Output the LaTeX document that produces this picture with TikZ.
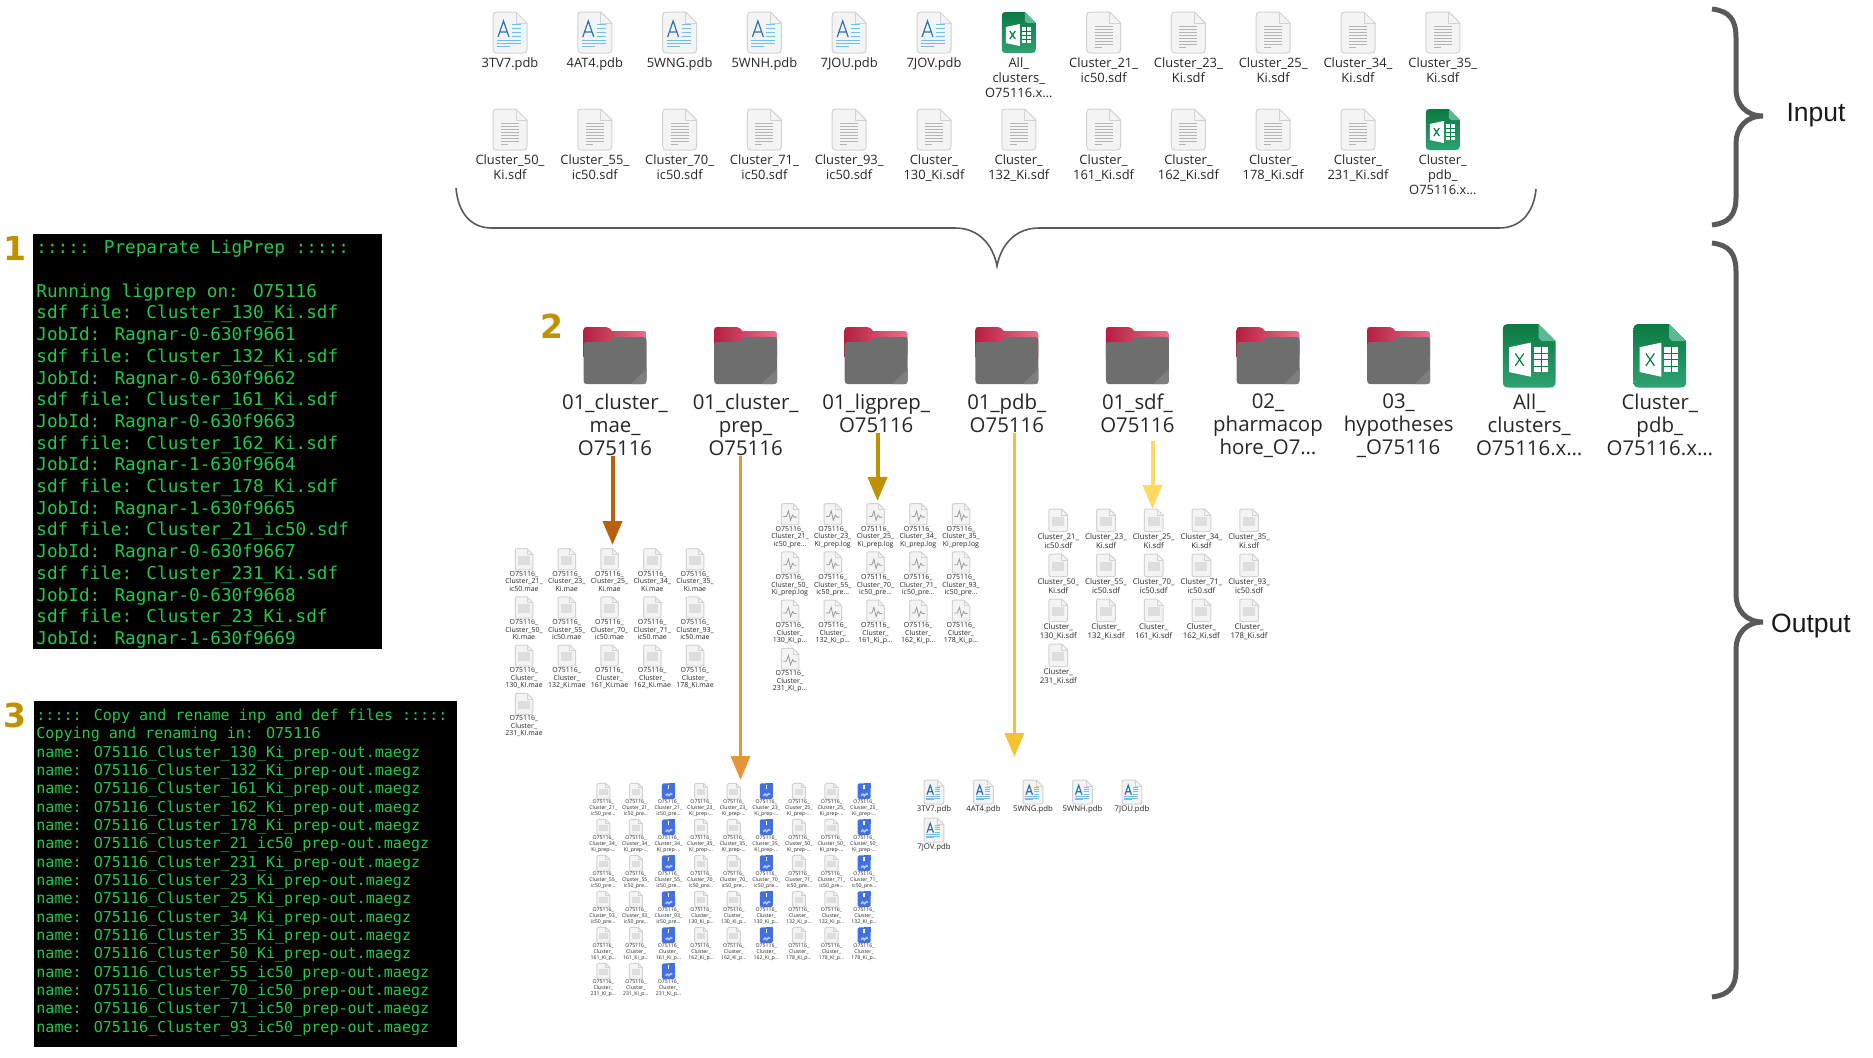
\documentclass[tikz,border=0pt]{standalone}
\usepackage{fontspec}
\usetikzlibrary{arrows.meta}
\setmainfont{Open Sans}
\newfontfamily\termfont{DejaVu Sans Mono}
\newfontfamily\digitfont{DejaVu Sans}
\newfontfamily\sidefont{Liberation Sans}
\catcode`\_=12

\definecolor{termgreen}{HTML}{22C84A}
\definecolor{stepgold}{HTML}{BF9000}
\definecolor{bracegray}{HTML}{595959}
\definecolor{pagefill}{HTML}{F4F4F4}
\definecolor{pageedge}{HTML}{D2D2D2}
\definecolor{pagelines}{HTML}{B4B4B4}
\definecolor{pdbdark}{HTML}{2F72AE}
\definecolor{pdblight}{HTML}{74BCEB}
\definecolor{xlsxdark}{HTML}{0B7A42}
\definecolor{xlsxlight}{HTML}{2FA272}
\definecolor{xlsxfold}{HTML}{5CB993}
\definecolor{reddark}{HTML}{B51F40}
\definecolor{redlight}{HTML}{EA6F8A}
\definecolor{foldergray}{HTML}{6E6E6E}
\definecolor{foldersheen}{HTML}{7E7E7E}
\definecolor{blueicon}{HTML}{4470DF}
\definecolor{arrowmae}{HTML}{B8610D}
\definecolor{arrowprep}{HTML}{E8943A}
\definecolor{arrowlig}{HTML}{BF9000}
\definecolor{arrowpdb}{HTML}{F6C232}
\definecolor{arrowsdf}{HTML}{FFD966}

% a page, 34 wide and 41 high, x centred, y from its top
\newcommand{\pagepath}{(-13,0) -- (6,0) -- (17,11) -- (17,37)
  .. controls (17,40) and (16,41) .. (13,41) -- (-13,41)
  .. controls (-16,41) and (-17,40) .. (-17,37) -- (-17,4)
  .. controls (-17,1) and (-16,0) .. (-13,0) -- cycle}
\newcommand{\iconpage}{%
  \filldraw[fill=pagefill,draw=pageedge,line width=.5pt] \pagepath;
  \draw[pageedge,line width=.4pt] (6,0) -- (6,11) -- (17,11);}
\newcommand{\icontxt}{\iconpage
  \foreach \ly in {14,17,20,23,26,29,32}
    \draw[pagelines,line width=.4pt] (-9,\ly) -- (9,\ly);
  \draw[pagelines,line width=.4pt] (-9,35) -- (-2,35);}
\newcommand{\iconblock}{\iconpage
  \fill[black!13] (-11,14) rectangle (11,31);}
\newcommand{\iconlog}{\iconpage
  \draw[black!40,line width=.4pt] (-13,25) -- (-7,25) -- (-3,14) -- (1,32) -- (5,22) -- (8,26) -- (13,26);}
\newcommand{\iconpdb}{\iconpage
  \draw[pdbdark,line width=.6pt] (-12,25) -- (-6.5,9) -- (-1,25) (-10,20) -- (-3,20);
  \foreach \ly in {12,16,20,24}
    \draw[pdblight,line width=.5pt] (2,\ly) -- (11,\ly);
  \foreach \ly in {28,31}
    \draw[pdblight,line width=.5pt] (-13,\ly) -- (11,\ly);
  \draw[pdblight,line width=.5pt] (-13,34) -- (0,34);}
\newcommand{\iconblue}{%
  \fill[blueicon] \pagepath;
  \fill[blueicon] (0,0) rectangle (17,12);
  \draw[white,line width=.7pt] (0,4) -- (0,16);
  \draw[white!60!blueicon,line width=.8pt] (-8,32) -- (-3,28) -- (1,32) -- (6,27) -- (10,29);}
\newcommand{\iconxlsx}{%
  \shade[top color=xlsxdark,bottom color=xlsxlight] \pagepath;
  \fill[xlsxfold] (6,0) -- (17,11) -- (8,11) -- (6,9) -- cycle;
  \fill[white] (-13,15) -- (1,12) -- (1,34) -- (-13,31) -- cycle;
  \fill[white] (3,15) rectangle (12,31);
  \draw[xlsxdark,line width=.6pt] (-9,19) -- (-3.5,27) (-3.5,19) -- (-9,27);
  \foreach \ly in {19,23,27}
    \draw[xlsxdark,line width=.3pt] (3,\ly) -- (12,\ly);
  \draw[xlsxdark,line width=.3pt] (7.5,15) -- (7.5,31);}
\newcommand{\iconbigxlsx}{%
  \begin{scope}[yshift=1.5pt,scale=1.55]\iconxlsx\end{scope}}
\newcommand{\iconfolder}{%
  \shade[left color=reddark,right color=redlight] (-28.5,0) -- (-9,0)
    .. controls (-6,0) and (-5,2) .. (-3,4) -- (28.5,4)
    .. controls (30.5,4) and (31.5,5) .. (31.5,8) -- (31.5,30)
    -- (-31.5,30) -- (-31.5,3) .. controls (-31.5,1) and (-30.5,0) .. (-28.5,0) -- cycle;
  \fill[foldergray] (-31.5,18) .. controls (-31.5,16) and (-30.5,15) .. (-28.5,15)
    -- (-7,15) .. controls (-4,15) and (-4,10) .. (-1,10) -- (28.5,10)
    .. controls (30.5,10) and (31.5,11) .. (31.5,13) -- (31.5,53)
    .. controls (31.5,56) and (30.5,57) .. (28.5,57) -- (-28.5,57)
    .. controls (-30.5,57) and (-31.5,56) .. (-31.5,53) -- cycle;
  \fill[foldersheen] (31.5,42) -- (31.5,53) .. controls (31.5,56) and (30.5,57) .. (28.5,57)
    -- (16,57) -- cycle;}

% one icon with its name below it
\newcommand{\putfile}[7]{%
  \coordinate (#1#2) at (#5,#6);
  \begin{scope}[shift={(#1#2)},scale=#4]\csname icon#3\endcsname\end{scope}
  \node [#1 label] (#1lbl#2) at (#1#2) {#7};}
% group, scale, first x, first y, dx, dy, columns, list of kind/label
\newcommand{\filegrid}[8]{%
  \foreach \kind/\lbl [count=\n from 0] in {#8} {
    \pgfmathtruncatemacro{\col}{mod(\n,#7)}
    \pgfmathtruncatemacro{\row}{(\n-\col)/#7}
    \pgfmathsetmacro{\gx}{#3+\col*#5}
    \pgfmathsetmacro{\gy}{#4+\row*#6}
    \putfile{#1}{\n}{\kind}{#2}{\gx}{\gy}{\lbl}
  }}

\begin{document}
\begin{tikzpicture}[x=.5pt,y=-.5pt]

  \tikzstyle{file label}=[anchor=north,align=center,inner sep=0pt,text=black!85]
  \tikzstyle{top label}=[file label,yshift=-22.4pt,font=\fontsize{6.45}{7.5}\selectfont]
  \tikzstyle{big label}=[file label,yshift=-33.2pt,font=\fontsize{10.2}{11.5}\selectfont]
  \tikzstyle{mae label}=[file label,yshift=-11.1pt,font=\fontsize{3.5}{3.75}\selectfont]
  \tikzstyle{log label}=[mae label]
  \tikzstyle{sdf label}=[file label,yshift=-12.3pt,font=\fontsize{3.9}{4.15}\selectfont]
  \tikzstyle{prep label}=[file label,yshift=-7.9pt,font=\fontsize{2.6}{2.95}\selectfont]
  \tikzstyle{pdb label}=[file label,yshift=-12.8pt,font=\fontsize{3.9}{4.2}\selectfont]
  \tikzstyle{term box}=[rectangle,fill=black,anchor=north west,inner sep=0pt]
  \tikzstyle{term text}=[anchor=north west,align=left,inner sep=0pt,text=termgreen]
  \tikzstyle{step num}=[text=stepgold,font=\digitfont\bfseries\fontsize{16.5}{18}\selectfont,inner sep=0pt]
  \tikzstyle{side}=[font=\sidefont\fontsize{13.25}{15}\selectfont,text=black!90,inner sep=0pt]
  \tikzstyle{thin brace}=[draw=bracegray,line width=.8pt]
  \tikzstyle{big brace}=[draw=bracegray,line width=2.5pt,miter limit=8]
  \tikzstyle{flow}=[-{Triangle[width=9.5pt,length=12pt]},line width=2pt]

  \useasboundingbox (0,0) rectangle (1873,1057);

  % input files
  \filegrid{top}{1}{510}{12}{84.8}{97}{12}{pdb/3TV7.pdb,pdb/4AT4.pdb,pdb/5WNG.pdb,pdb/5WNH.pdb,
    pdb/7JOU.pdb,pdb/7JOV.pdb,xlsx/All_\\clusters_\\O75116.x…,txt/Cluster_21_\\ic50.sdf,
    txt/Cluster_23_\\Ki.sdf,txt/Cluster_25_\\Ki.sdf,txt/Cluster_34_\\Ki.sdf,txt/Cluster_35_\\Ki.sdf,
    txt/Cluster_50_\\Ki.sdf,txt/Cluster_55_\\ic50.sdf,txt/Cluster_70_\\ic50.sdf,txt/Cluster_71_\\ic50.sdf,
    txt/Cluster_93_\\ic50.sdf,txt/Cluster_\\130_Ki.sdf,txt/Cluster_\\132_Ki.sdf,txt/Cluster_\\161_Ki.sdf,
    txt/Cluster_\\162_Ki.sdf,txt/Cluster_\\178_Ki.sdf,txt/Cluster_\\231_Ki.sdf,xlsx/Cluster_\\pdb_\\O75116.x…}

  % output folders
  \filegrid{big}{1}{615}{327}{130.6}{0}{9}{folder/01_cluster_\\mae_\\O75116,folder/01_cluster_\\prep_\\O75116,
    folder/01_ligprep_\\O75116,folder/01_pdb_\\O75116,folder/01_sdf_\\O75116,
    folder/02_\\pharmacop\\hore_O7…,folder/03_\\hypotheses\\_O75116,
    bigxlsx/All_\\clusters_\\O75116.x…,bigxlsx/Cluster_\\pdb_\\O75116.x…}

  % folder contents
  \filegrid{mae}{.515}{524}{548.7}{42.75}{48.2}{5}{block/O75116_\\Cluster_21_\\ic50.mae,block/O75116_\\Cluster_23_\\Ki.mae,
    block/O75116_\\Cluster_25_\\Ki.mae,block/O75116_\\Cluster_34_\\Ki.mae,block/O75116_\\Cluster_35_\\Ki.mae,
    block/O75116_\\Cluster_50_\\Ki.mae,block/O75116_\\Cluster_55_\\ic50.mae,block/O75116_\\Cluster_70_\\ic50.mae,
    block/O75116_\\Cluster_71_\\ic50.mae,block/O75116_\\Cluster_93_\\ic50.mae,
    block/O75116_\\Cluster_\\130_Ki.mae,block/O75116_\\Cluster_\\132_Ki.mae,block/O75116_\\Cluster_\\161_Ki.mae,
    block/O75116_\\Cluster_\\162_Ki.mae,block/O75116_\\Cluster_\\178_Ki.mae,block/O75116_\\Cluster_\\231_Ki.mae}
  \filegrid{log}{.515}{790}{503.7}{42.75}{48.2}{5}{log/O75116_\\Cluster_21_\\ic50_pre…,log/O75116_\\Cluster_23_\\Ki_prep.log,
    log/O75116_\\Cluster_25_\\Ki_prep.log,log/O75116_\\Cluster_34_\\Ki_prep.log,log/O75116_\\Cluster_35_\\Ki_prep.log,
    log/O75116_\\Cluster_50_\\Ki_prep.log,log/O75116_\\Cluster_55_\\ic50_pre…,log/O75116_\\Cluster_70_\\ic50_pre…,
    log/O75116_\\Cluster_71_\\ic50_pre…,log/O75116_\\Cluster_93_\\ic50_pre…,
    log/O75116_\\Cluster_\\130_Ki_p…,log/O75116_\\Cluster_\\132_Ki_p…,log/O75116_\\Cluster_\\161_Ki_p…,
    log/O75116_\\Cluster_\\162_Ki_p…,log/O75116_\\Cluster_\\178_Ki_p…,log/O75116_\\Cluster_\\231_Ki_p…}
  \filegrid{sdf}{.55}{1058.3}{509}{47.7}{45}{5}{block/Cluster_21_\\ic50.sdf,block/Cluster_23_\\Ki.sdf,block/Cluster_25_\\Ki.sdf,
    block/Cluster_34_\\Ki.sdf,block/Cluster_35_\\Ki.sdf,block/Cluster_50_\\Ki.sdf,block/Cluster_55_\\ic50.sdf,
    block/Cluster_70_\\ic50.sdf,block/Cluster_71_\\ic50.sdf,block/Cluster_93_\\ic50.sdf,block/Cluster_\\130_Ki.sdf,
    block/Cluster_\\132_Ki.sdf,block/Cluster_\\161_Ki.sdf,block/Cluster_\\162_Ki.sdf,block/Cluster_\\178_Ki.sdf,
    block/Cluster_\\231_Ki.sdf}
  \filegrid{pdb}{.585}{934}{780}{49.5}{38}{5}{pdb/3TV7.pdb,pdb/4AT4.pdb,pdb/5WNG.pdb,pdb/5WNH.pdb,pdb/7JOU.pdb,pdb/7JOV.pdb}

  % three files per cluster, the third one blue
  \foreach \lbl [count=\n from 0] in {Cluster_21_\\ic50_pre…,Cluster_23_\\Ki_prep-…,Cluster_25_\\Ki_prep-…,
      Cluster_34_\\Ki_prep-…,Cluster_35_\\Ki_prep-…,Cluster_50_\\Ki_prep-…,
      Cluster_55_\\ic50_pre…,Cluster_70_\\ic50_pre…,Cluster_71_\\ic50_pre…,
      Cluster_93_\\ic50_pre…,Cluster_\\130_Ki_p…,Cluster_\\132_Ki_p…,
      Cluster_\\161_Ki_p…,Cluster_\\162_Ki_p…,Cluster_\\178_Ki_p…,Cluster_\\231_Ki_p…}
    \foreach \k/\kind in {0/block,1/block,2/blue} {
      \pgfmathtruncatemacro{\idx}{3*\n+\k}
      \pgfmathtruncatemacro{\col}{mod(\idx,9)}
      \pgfmathtruncatemacro{\row}{(\idx-\col)/9}
      \pgfmathsetmacro{\gx}{603.3+\col*32.6}
      \pgfmathsetmacro{\gy}{783.3+\row*36}
      \putfile{prep}{\idx}{\kind}{.385}{\gx}{\gy}{O75116_\\\lbl}
    }

  % terminals
  \node [term box,minimum width=174.5pt,minimum height=207.5pt] (term1) at (33,234) {};
  \node [term text,font=\termfont\fontsize{8.85}{10.85}\selectfont] (term1txt) at (36,240) {%
    ::::: Preparate LigPrep :::::\\
    ~\\
    Running ligprep on: O75116\\
    sdf file: Cluster_130_Ki.sdf\\
    JobId: Ragnar-0-630f9661\\
    sdf file: Cluster_132_Ki.sdf\\
    JobId: Ragnar-0-630f9662\\
    sdf file: Cluster_161_Ki.sdf\\
    JobId: Ragnar-0-630f9663\\
    sdf file: Cluster_162_Ki.sdf\\
    JobId: Ragnar-1-630f9664\\
    sdf file: Cluster_178_Ki.sdf\\
    JobId: Ragnar-1-630f9665\\
    sdf file: Cluster_21_ic50.sdf\\
    JobId: Ragnar-0-630f9667\\
    sdf file: Cluster_231_Ki.sdf\\
    JobId: Ragnar-0-630f9668\\
    sdf file: Cluster_23_Ki.sdf\\
    JobId: Ragnar-1-630f9669};

  \node [term box,minimum width=211.5pt,minimum height=173pt] (term3) at (33.7,701) {};
  \node [term text,font=\termfont\fontsize{7.53}{9.167}\selectfont] (term3txt) at (36,708.4) {%
    ::::: Copy and rename inp and def files :::::\\
    Copying and renaming in: O75116\\
    name: O75116_Cluster_130_Ki_prep-out.maegz\\
    name: O75116_Cluster_132_Ki_prep-out.maegz\\
    name: O75116_Cluster_161_Ki_prep-out.maegz\\
    name: O75116_Cluster_162_Ki_prep-out.maegz\\
    name: O75116_Cluster_178_Ki_prep-out.maegz\\
    name: O75116_Cluster_21_ic50_prep-out.maegz\\
    name: O75116_Cluster_231_Ki_prep-out.maegz\\
    name: O75116_Cluster_23_Ki_prep-out.maegz\\
    name: O75116_Cluster_25_Ki_prep-out.maegz\\
    name: O75116_Cluster_34_Ki_prep-out.maegz\\
    name: O75116_Cluster_35_Ki_prep-out.maegz\\
    name: O75116_Cluster_50_Ki_prep-out.maegz\\
    name: O75116_Cluster_55_ic50_prep-out.maegz\\
    name: O75116_Cluster_70_ic50_prep-out.maegz\\
    name: O75116_Cluster_71_ic50_prep-out.maegz\\
    name: O75116_Cluster_93_ic50_prep-out.maegz};

  % step numbers and side labels
  \node [step num] (num1) at (15,248) {1};
  \node [step num] (num2) at (552,326) {2};
  \node [step num] (num3) at (15,715) {3};
  \node [side] (input) at (1816,115) {Input};
  \node [side] (output) at (1811,626) {Output};

  % arrows out of the folders
  \coordinate (tipmae) at (612.5,545);
  \coordinate (tipprep) at (740.5,780);
  \coordinate (tiplig) at (877.5,501);
  \coordinate (tippdb) at (1014.4,757);
  \coordinate (tipsdf) at (1152.5,509);
  \draw [flow,arrowmae] (biglbl0.south -| tipmae) -- (tipmae);
  \draw [flow,arrowprep,line width=1.7pt] (biglbl1.south -| tipprep) -- (tipprep);
  \draw [flow,arrowlig] (biglbl2.south -| tiplig) -- (tiplig);
  \draw [flow,arrowpdb,line width=1.7pt] (biglbl3.south -| tippdb) -- (tippdb);
  \draw [flow,arrowsdf,shorten <=4pt] (biglbl4.south -| tipsdf) -- (tipsdf);

  % braces
  \draw [thin brace] (456,188) .. controls (458,212) and (470,228) .. (492,228) -- (955,228)
    .. controls (979,228) and (993,245) .. (997,266)
    .. controls (1001,245) and (1015,228) .. (1039,228) -- (1499,228)
    .. controls (1521,228) and (1534,212) .. (1536,189);
  \draw [big brace] (1712,9) .. controls (1729,11) and (1736,19) .. (1736,38) -- (1736,90)
    .. controls (1736,104) and (1746,116) .. (1763,116)
    .. controls (1746,116) and (1736,128) .. (1736,143) -- (1736,197)
    .. controls (1736,215) and (1729,223) .. (1712,225);
  \draw [big brace] (1712,243) .. controls (1729,245) and (1736,253) .. (1736,272) -- (1736,595)
    .. controls (1736,610) and (1746,622) .. (1763,622)
    .. controls (1746,622) and (1736,634) .. (1736,649) -- (1736,969)
    .. controls (1736,987) and (1729,995) .. (1712,997);

\end{tikzpicture}
\end{document}
